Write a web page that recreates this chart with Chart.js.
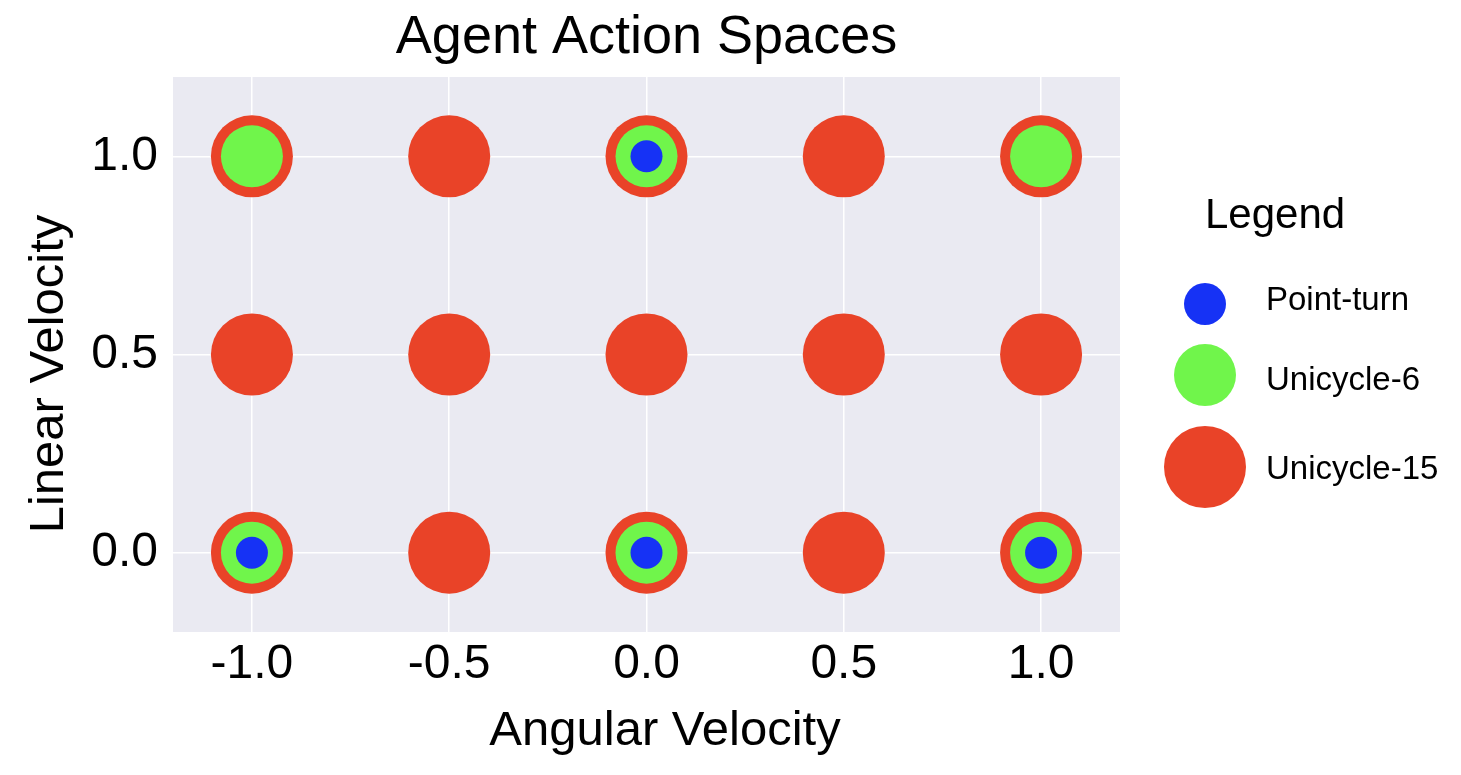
<html><head>
<title>Agent Action Spaces</title>
<script src="https://cdn.jsdelivr.net/npm/chart.js"></script>
<style>
  body {
    margin: 0;
    background: #fff;
  }
  #wrap {
    width: 1461px;
    height: 775px;
  }
</style>
</head>
<body>
<div id="wrap"><canvas id="chart" width="1461" height="775"></canvas></div>

<script>
// action spaces: [angular, linear]
const pointTurn = [[-1, 0], [0, 0], [1, 0], [0, 1]];
const unicycle6 = [[-1, 0], [0, 0], [1, 0], [-1, 1], [0, 1], [1, 1]];
const unicycle15 = [
  [-1, 0], [-0.5, 0], [0, 0], [0.5, 0], [1, 0],
  [-1, 0.5], [-0.5, 0.5], [0, 0.5], [0.5, 0.5], [1, 0.5],
  [-1, 1], [-0.5, 1], [0, 1], [0.5, 1], [1, 1]
];
const seriesNames = ['Point-turn', 'Unicycle-6', 'Unicycle-15'];
const xTicks = [-1.0, -0.5, 0.0, 0.5, 1.0];
const yTicks = [0.0, 0.5, 1.0];

const colors = ['#1632f5', '#70f54b', '#e94328'];
const radii = [16, 31, 41];
const FONT = '"Liberation Sans", Arial, Helvetica, sans-serif';

function toXY(list) {
  return list.map(p => ({x: p[0], y: p[1]}));
}

const bgPlugin = {
  id: 'bg',
  beforeDraw(chart) {
    const {ctx, chartArea: a} = chart;
    ctx.save();
    ctx.fillStyle = '#eaeaf2';
    ctx.fillRect(a.left, a.top, a.right - a.left, a.bottom - a.top);
    ctx.restore();
  }
};

// title, axis titles and legend drawn by hand to match the layout
const decorPlugin = {
  id: 'decor',
  afterDraw(chart) {
    const {ctx, chartArea: a} = chart;
    ctx.save();
    ctx.fillStyle = '#000';
    ctx.textAlign = 'center';
    ctx.textBaseline = 'alphabetic';
    ctx.font = '54px ' + FONT;
    ctx.fillText('Agent Action Spaces', (a.left + a.right) / 2, 53);

    ctx.font = '49px ' + FONT;
    ctx.textBaseline = 'middle';
    ctx.fillText('Angular Velocity', 665, 731);
    ctx.save();
    ctx.translate(49, 374);
    ctx.rotate(-Math.PI / 2);
    ctx.fillText('Linear Velocity', 0, 0);
    ctx.restore();

    ctx.textAlign = 'left';
    ctx.textBaseline = 'alphabetic';
    ctx.font = '42px ' + FONT;
    ctx.fillText('Legend', 1205, 228);

    const circleY = [304, 375, 467];
    const circleR = [21, 31, 41];
    const textY = [301, 381, 470];
    ctx.font = '33px ' + FONT;
    ctx.textBaseline = 'middle';
    seriesNames.forEach((name, i) => {
      ctx.fillStyle = colors[i];
      ctx.beginPath();
      ctx.arc(1205, circleY[i], circleR[i], 0, Math.PI * 2);
      ctx.fill();
      ctx.fillStyle = '#000';
      ctx.fillText(name, 1266, textY[i]);
    });
    ctx.restore();
  }
};

new Chart(document.getElementById('chart'), {
  type: 'scatter',
  data: {
    datasets: [pointTurn, unicycle6, unicycle15].map((d, i) => ({
      label: seriesNames[i],
      data: toXY(d),
      backgroundColor: colors[i],
      borderWidth: 0,
      pointRadius: radii[i],
      pointHoverRadius: radii[i]
    }))
  },
  options: {
    responsive: false,
    animation: false,
    events: [],
    layout: {padding: {top: 77, right: 341, left: 0, bottom: 0}},
    plugins: {
      legend: {display: false},
      title: {display: false},
      tooltip: {enabled: false}
    },
    scales: {
      x: {
        min: -1.2,
        max: 1.2,
        afterFit(s) { s.height = 143; },
        afterBuildTicks(s) { s.ticks = xTicks.map(v => ({value: v})); },
        border: {display: false},
        grid: {color: '#ffffff', lineWidth: 1.5, drawTicks: false},
        ticks: {
          padding: 4,
          color: '#000',
          font: {size: 48, family: FONT},
          callback: v => Number(v).toFixed(1)
        }
      },
      y: {
        min: -0.2,
        max: 1.2,
        afterFit(s) { s.width = 173; },
        afterBuildTicks(s) { s.ticks = yTicks.map(v => ({value: v})); },
        border: {display: false},
        grid: {color: '#ffffff', lineWidth: 1.5, drawTicks: false},
        ticks: {
          padding: 15,
          color: '#000',
          font: {size: 48, family: FONT},
          callback: v => Number(v).toFixed(1)
        }
      }
    }
  },
  plugins: [bgPlugin, decorPlugin]
});
</script>
</body></html>
